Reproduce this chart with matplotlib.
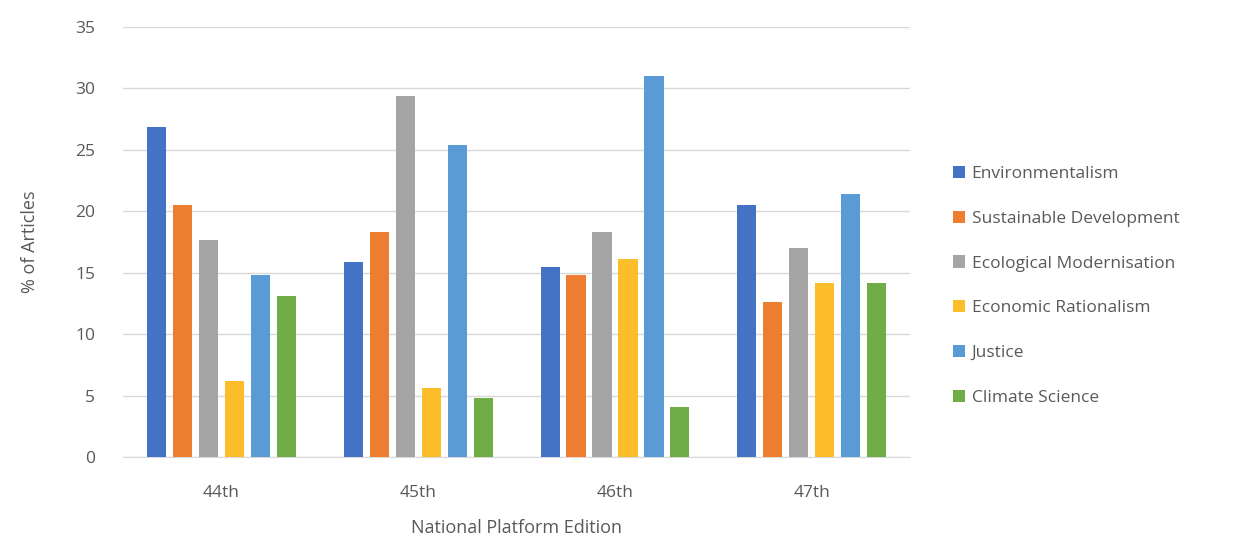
import matplotlib
matplotlib.use("Agg")
import matplotlib.pyplot as plt
import numpy as np

# data
editions = ["44th", "45th", "46th", "47th"]
series_names = [
    "Environmentalism",
    "Sustainable Development",
    "Ecological Modernisation",
    "Economic Rationalism",
    "Justice",
    "Climate Science",
]
environmentalism = [26.9, 15.9, 15.5, 20.5]
sustainable_dev = [20.5, 18.3, 14.8, 12.6]
ecological_mod = [17.7, 29.4, 18.3, 17.0]
economic_rat = [6.2, 5.6, 16.1, 14.2]
justice = [14.8, 25.4, 31.0, 21.4]
climate_science = [13.1, 4.8, 4.1, 14.2]

values = [environmentalism, sustainable_dev, ecological_mod,
          economic_rat, justice, climate_science]
colors = ["#4472C4", "#ED7D31", "#A5A5A5", "#FBBD2A", "#5B9BD5", "#70AD47"]

text_col = "#595959"
plt.rcParams["font.family"] = ["Open Sans", "DejaVu Sans"]

fig = plt.figure(figsize=(12.35, 5.41), dpi=100)
ax = fig.add_axes([0.0996, 0.155, 0.6374, 0.795])

x = np.arange(len(editions))
step = 0.132
width = 0.097
for i, (name, vals) in enumerate(zip(series_names, values)):
    offs = (i - 2.5) * step
    ax.bar(x + offs, vals, width=width, color=colors[i], label=name, zorder=3)

ax.set_xlim(-0.5, 3.5)
ax.set_ylim(0, 35)
ax.set_yticks(range(0, 36, 5))
ax.set_xticks(x)
ax.set_xticklabels(editions)
ax.grid(axis="y", color="#D9D9D9", linewidth=1.0, zorder=0)
for s in ["top", "right", "left"]:
    ax.spines[s].set_visible(False)
ax.spines["bottom"].set_color("#D9D9D9")
ax.tick_params(axis="both", length=0, colors=text_col, labelsize=12.5)
ax.tick_params(axis="y", pad=20)
ax.tick_params(axis="x", pad=20)

ax.set_xlabel("National Platform Edition", color=text_col, fontsize=13,
              labelpad=13)
ax.set_ylabel("% of Articles", color=text_col, fontsize=13, labelpad=26)

ax.legend(loc="center left", bbox_to_anchor=(1.034, 0.398), frameon=False,
          fontsize=12.5, labelcolor=text_col, handlelength=0.7,
          handleheight=0.7, handletextpad=0.4, labelspacing=1.65)

fig.savefig("out.png", dpi=100)
